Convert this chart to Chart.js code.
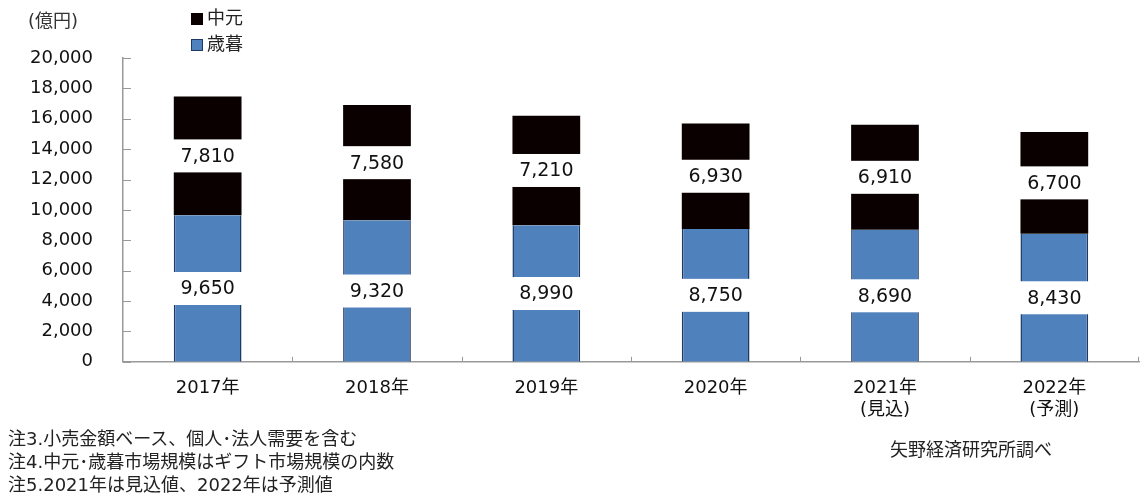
<!DOCTYPE html>
<html>
<head>
  <meta charset="UTF-8" />
  <title>中元・歳暮市場規模</title>
  <script src="https://cdn.jsdelivr.net/npm/chart.js@4.4.0/dist/chart.umd.min.js"></script>
  <style>
    body{margin:0;background:#fff;font-family:'DejaVu Sans','Noto Sans CJK JP',sans-serif;}
    #wrap{position:relative;width:1142px;height:495px;overflow:hidden}
    #chart{position:absolute;left:0;top:0}
    .txt{position:absolute;white-space:nowrap;color:#222;font-size:18px;line-height:1}
    .sw{display:inline-block;width:12px;height:12px;margin-right:4px;vertical-align:-1px}
  </style>
</head>
<body>
<div id="wrap">
  <canvas id="chart" width="1142" height="495"></canvas>
  <div class="txt" style="left:28px;top:12px;font-size:18px;color:#333">(億円)</div>
  <div class="txt" style="left:191px;top:9px"><span class="sw" style="background:#0a0000"></span>中元</div>
  <div class="txt" style="left:191px;top:35px"><span class="sw" style="background:#4f81bd;border:1px solid #1f3864;width:10px;height:10px"></span>歳暮</div>
  <div class="txt" style="left:8px;top:430px">注3.小売金額ベース、個人･法人需要を含む</div>
  <div class="txt" style="left:8px;top:453px">注4.中元･歳暮市場規模はギフト市場規模の内数</div>
  <div class="txt" style="left:8px;top:476px">注5.2021年は見込値、2022年は予測値</div>
  <div class="txt" style="left:890px;top:441px">矢野経済研究所調べ</div>
</div>
<script>
  // data (億円)
  const years=[['2017年'],['2018年'],['2019年'],['2020年'],['2021年','(見込)'],['2022年','(予測)']];
  const seibo=[9650,9320,8990,8750,8690,8430];
  const chugen=[7810,7580,7210,6930,6910,6700];
  const yTicks=[0,2000,4000,6000,8000,10000,12000,14000,16000,18000,20000];

  const FONT="'DejaVu Sans','Noto Sans CJK JP',sans-serif";

  // white boxed value labels in the middle of every segment
  const boxLabels={
    id:'boxLabels',
    afterDatasetsDraw(chart){
      const ctx=chart.ctx;
      ctx.save();
      ctx.font='19px '+FONT;
      ctx.textAlign='center';
      ctx.textBaseline='middle';
      chart.data.datasets.forEach((ds,i)=>{
        chart.getDatasetMeta(i).data.forEach((bar,j)=>{
          const cy=(bar.y+bar.base)/2;
          ctx.fillStyle='#fff';
          ctx.fillRect(bar.x-44,cy-16.5,88,33);
          ctx.fillStyle='#111';
          ctx.fillText(ds.data[j].toLocaleString('en-US'),bar.x,cy+1);
        });
      });
      ctx.restore();
    }
  };

  // short tick marks drawn inside the plot area
  const innerTicks={
    id:'innerTicks',
    afterDraw(chart){
      const ctx=chart.ctx, a=chart.chartArea, ys=chart.scales.y, xs=chart.scales.x;
      ctx.save();
      ctx.strokeStyle='#999';
      ctx.lineWidth=1;
      ctx.beginPath();
      yTicks.forEach(v=>{
        const y=Math.round(ys.getPixelForValue(v))+0.5;
        ctx.moveTo(a.left,y);ctx.lineTo(a.left+8,y);
      });
      for(let i=1;i<years.length;i++){
        const x=Math.round((xs.getPixelForValue(i-1)+xs.getPixelForValue(i))/2)+0.5;
        ctx.moveTo(x,a.bottom);ctx.lineTo(x,a.bottom-5);
      }
      ctx.moveTo(a.right-0.5,a.bottom);ctx.lineTo(a.right-0.5,a.bottom-5);
      ctx.stroke();
      ctx.restore();
    }
  };

  new Chart(document.getElementById('chart'),{
    type:'bar',
    data:{
      labels:years,
      datasets:[
        {label:'歳暮',data:seibo,backgroundColor:'#4f81bd',borderColor:'#1f3864',
         borderWidth:{left:1.5,right:1.5,top:0,bottom:0},borderSkipped:false,
         barPercentage:0.8,categoryPercentage:0.5},
        {label:'中元',data:chugen,backgroundColor:'#0a0000',borderWidth:0,
         barPercentage:0.8,categoryPercentage:0.5}
      ]
    },
    options:{
      responsive:false,
      animation:false,
      devicePixelRatio:1,
      layout:{padding:{top:58,right:3,bottom:66,left:8}},
      plugins:{legend:{display:false},tooltip:{enabled:false}},
      scales:{
        x:{
          stacked:true,
          grid:{display:false},
          border:{color:'#999',width:1.5},
          ticks:{color:'#111',font:{family:FONT,size:18},padding:8,maxRotation:0}
        },
        y:{
          stacked:true,min:0,max:20000,
          afterBuildTicks(s){s.ticks=yTicks.map(v=>({value:v}));},
          grid:{display:false},
          border:{color:'#999',width:1.5},
          ticks:{color:'#111',font:{family:FONT,size:18},padding:22,
                 callback:v=>v.toLocaleString('en-US')}
        }
      }
    },
    plugins:[boxLabels,innerTicks]
  });
</script>
</body>
</html>
